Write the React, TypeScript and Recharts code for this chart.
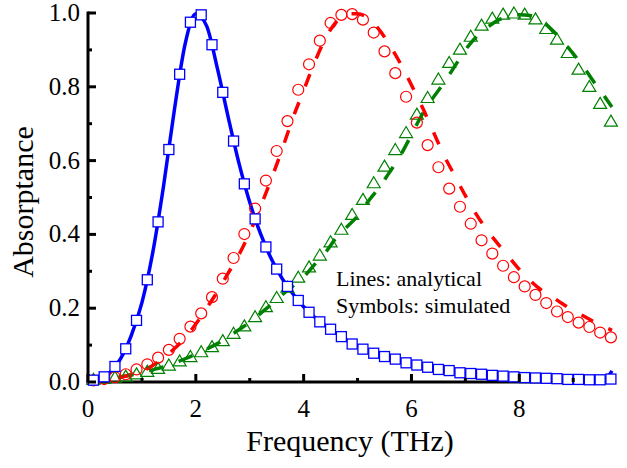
import { ComposedChart, Line, XAxis, YAxis } from "recharts";

// frequencies (THz)
const freqLine = [
  0, 0.2, 0.4, 0.6, 0.8, 1.0, 1.2, 1.4, 1.6, 1.8, 2.0, 2.2, 2.4, 2.6, 2.8, 3.0, 3.2, 3.4, 3.6, 3.8,
  4.0, 4.2, 4.4, 4.6, 4.8, 5.0, 5.2, 5.4, 5.6, 5.8, 6.0, 6.2, 6.4, 6.6, 6.8, 7.0, 7.2, 7.4, 7.6, 7.8,
  8.0, 8.2, 8.4, 8.6, 8.8, 9.0, 9.2, 9.4, 9.6, 9.72,
];
const freqSym = [
  0.1, 0.3, 0.5, 0.7, 0.9, 1.1, 1.3, 1.5, 1.7, 1.9, 2.1, 2.3, 2.5, 2.7, 2.9, 3.1, 3.3, 3.5, 3.7, 3.9,
  4.1, 4.3, 4.5, 4.7, 4.9, 5.1, 5.3, 5.5, 5.7, 5.9, 6.1, 6.3, 6.5, 6.7, 6.9, 7.1, 7.3, 7.5, 7.7, 7.9,
  8.1, 8.3, 8.5, 8.7, 8.9, 9.1, 9.3, 9.5, 9.7,
];

// analytical (lines)
const blueLine = [
  0.002, 0.008, 0.025, 0.062, 0.125, 0.215, 0.35, 0.53, 0.735, 0.915, 0.998, 0.965, 0.85, 0.718, 0.593,
  0.487, 0.402, 0.334, 0.281, 0.239, 0.204, 0.176, 0.153, 0.133, 0.113, 0.096, 0.083, 0.073, 0.065, 0.057,
  0.049, 0.043, 0.037, 0.032, 0.028, 0.024, 0.022, 0.019, 0.017, 0.015, 0.013, 0.012, 0.01, 0.009, 0.008,
  0.007, 0.006, 0.006, 0.01, 0.03,
];
const redLine = [
  0.003, 0.005, 0.008, 0.013, 0.02, 0.03, 0.045, 0.065, 0.09, 0.12, 0.157, 0.2, 0.245, 0.295, 0.345,
  0.405, 0.475, 0.55, 0.63, 0.715, 0.79, 0.865, 0.93, 0.975, 0.997, 0.998, 0.985, 0.955, 0.912, 0.862,
  0.805, 0.745, 0.68, 0.615, 0.56, 0.505, 0.455, 0.412, 0.375, 0.34, 0.305, 0.275, 0.25, 0.232, 0.212,
  0.194, 0.178, 0.162, 0.148, 0.14,
];
const greenLine = [
  0.004, 0.008, 0.011, 0.014, 0.019, 0.025, 0.033, 0.041, 0.051, 0.063, 0.075, 0.089, 0.104, 0.122, 0.142,
  0.162, 0.186, 0.21, 0.236, 0.26, 0.285, 0.318, 0.35, 0.39, 0.42, 0.45, 0.49, 0.527, 0.57, 0.615,
  0.67, 0.725, 0.77, 0.81, 0.855, 0.9, 0.935, 0.96, 0.98, 0.99, 0.995, 0.993, 0.98, 0.955, 0.925,
  0.89, 0.852, 0.81, 0.77, 0.745,
];

// simulated (symbols)
const blueSim = [
  0.005, 0.014, 0.042, 0.09, 0.167, 0.277, 0.434, 0.63, 0.834, 0.975, 0.995, 0.914, 0.785, 0.653, 0.537,
  0.442, 0.366, 0.306, 0.259, 0.221, 0.189, 0.163, 0.143, 0.123, 0.103, 0.089, 0.078, 0.069, 0.062, 0.052,
  0.046, 0.04, 0.034, 0.031, 0.025, 0.023, 0.021, 0.018, 0.016, 0.014, 0.012, 0.011, 0.01, 0.009, 0.007,
  0.007, 0.006, 0.006, 0.008,
];
const redSim = [
  0.004, 0.008, 0.013, 0.021, 0.034, 0.048, 0.066, 0.087, 0.117, 0.15, 0.186, 0.23, 0.28, 0.336, 0.401,
  0.47, 0.546, 0.626, 0.707, 0.792, 0.861, 0.925, 0.973, 0.995, 0.997, 0.982, 0.947, 0.896, 0.837, 0.773,
  0.703, 0.642, 0.582, 0.524, 0.475, 0.429, 0.384, 0.348, 0.315, 0.284, 0.259, 0.236, 0.214, 0.191, 0.176,
  0.161, 0.149, 0.134, 0.121,
];
const greenSim = [
  0.007, 0.01, 0.013, 0.016, 0.022, 0.029, 0.037, 0.046, 0.057, 0.069, 0.082, 0.096, 0.112, 0.132, 0.152,
  0.177, 0.204, 0.229, 0.257, 0.284, 0.312, 0.344, 0.38, 0.414, 0.454, 0.495, 0.54, 0.585, 0.63, 0.676,
  0.726, 0.771, 0.821, 0.866, 0.902, 0.937, 0.967, 0.986, 0.997, 1.0, 0.997, 0.984, 0.958, 0.929, 0.893,
  0.848, 0.801, 0.755, 0.707,
];

const xTicks = [0, 1, 2, 3, 4, 5, 6, 7, 8, 9];
const yTicks = [0, 0.1, 0.2, 0.3, 0.4, 0.5, 0.6, 0.7, 0.8, 0.9, 1.0];

const FONT = "'Times New Roman', Times, 'Liberation Serif', 'DejaVu Serif', serif";
const BLUE = "#0000ff";
const RED = "#ff0000";
const GREEN = "#008000";

const toRows = (xs: number[], ys: number[]) => ys.map((a, i) => ({ f: xs[i], a }));

function makeTick(side: "bottom" | "top" | "left" | "right") {
  return (p: any) => {
    const { x, y, index } = p;
    const major = index % 2 === 0;
    const len = major ? 8 : 4;
    let line;
    if (side === "bottom") line = <line x1={x} y1={y} x2={x} y2={y - len} />;
    else if (side === "top") line = <line x1={x} y1={y} x2={x} y2={y + len} />;
    else if (side === "left") line = <line x1={x} y1={y} x2={x + len} y2={y} />;
    else line = <line x1={x} y1={y} x2={x - len} y2={y} />;
    return (
      <g>
        <g stroke="#000" strokeWidth={3}>{line}</g>
        {major && side === "bottom" && (
          <text x={x} y={y + 35} textAnchor="middle" style={{ fontFamily: FONT, fontSize: 25 }} fill="#000">
            {p.payload.value}
          </text>
        )}
        {major && side === "left" && (
          <text x={x - 8} y={y + 8} textAnchor="end" style={{ fontFamily: FONT, fontSize: 25 }} fill="#000">
            {Number(p.payload.value).toFixed(1)}
          </text>
        )}
      </g>
    );
  };
}

const Square = (p: any) => (
  <rect key={p.index} x={p.cx - 5} y={p.cy - 5} width={10} height={10} fill="#fff" stroke={BLUE} strokeWidth={1.3} />
);
const Circle = (p: any) => (
  <circle key={p.index} cx={p.cx} cy={p.cy} r={5.5} fill="none" stroke={RED} strokeWidth={1.2} />
);
const Triangle = (p: any) => (
  <path
    key={p.index}
    d={`M${p.cx},${p.cy - 6}L${p.cx + 6.5},${p.cy + 5}L${p.cx - 6.5},${p.cy + 5}Z`}
    fill="none"
    stroke={GREEN}
    strokeWidth={1.2}
  />
);

const axisLine = { stroke: "#000", strokeWidth: 3, strokeLinecap: "square" as const };

export default function App() {
  return (
    <div style={{ position: "absolute", left: 0, top: 0, width: 627, height: 468, background: "#fff", fontFamily: FONT }}>
      <ComposedChart width={627} height={468} margin={{ top: 13, right: 15, bottom: 0, left: 0 }}>
        <XAxis
          dataKey="f"
          type="number"
          domain={[0, 9.72]}
          ticks={xTicks}
          interval={0}
          height={86}
          tickSize={0}
          tickMargin={0}
          tickLine={false}
          axisLine={axisLine}
          tick={makeTick("bottom")}
          allowDuplicatedCategory={false}
        />
        <XAxis
          xAxisId="top"
          orientation="top"
          dataKey="f"
          type="number"
          domain={[0, 9.72]}
          ticks={xTicks}
          interval={0}
          height={0}
          tickSize={0}
          tickMargin={0}
          tickLine={false}
          axisLine={axisLine}
          tick={makeTick("top")}
        />
        <YAxis
          type="number"
          domain={[0, 1]}
          ticks={yTicks}
          interval={0}
          width={88}
          tickSize={0}
          tickMargin={0}
          tickLine={false}
          axisLine={axisLine}
          tick={makeTick("left")}
        />
        <YAxis
          yAxisId="right"
          orientation="right"
          type="number"
          domain={[0, 1]}
          ticks={yTicks}
          interval={0}
          width={0}
          tickSize={0}
          tickMargin={0}
          tickLine={false}
          axisLine={axisLine}
          tick={makeTick("right")}
        />
        <Line data={toRows(freqLine, greenLine)} dataKey="a" type="monotone" stroke={GREEN} strokeWidth={3.5}
          strokeDasharray="15 16" dot={false} activeDot={false} isAnimationActive={false} />
        <Line data={toRows(freqLine, redLine)} dataKey="a" type="monotone" stroke={RED} strokeWidth={3.5}
          strokeDasharray="13 17" dot={false} activeDot={false} isAnimationActive={false} />
        <Line data={toRows(freqLine, blueLine)} dataKey="a" type="monotone" stroke={BLUE} strokeWidth={3.5}
          dot={false} activeDot={false} isAnimationActive={false} />
        <Line data={toRows(freqSym, greenSim)} dataKey="a" stroke="none" dot={Triangle} activeDot={false}
          isAnimationActive={false} />
        <Line data={toRows(freqSym, redSim)} dataKey="a" stroke="none" dot={Circle} activeDot={false}
          isAnimationActive={false} />
        <Line data={toRows(freqSym, blueSim)} dataKey="a" stroke="none" dot={Square} activeDot={false}
          isAnimationActive={false} />
      </ComposedChart>
      <svg width={627} height={468} style={{ position: "absolute", left: 0, top: 0, pointerEvents: "none" }}>
        <text x={350} y={451} textAnchor="middle" style={{ fontFamily: FONT, fontSize: 30 }} fill="#000">
          Frequency (THz)
        </text>
        <text x={0} y={0} transform="translate(33,202) rotate(-90)" textAnchor="middle"
          style={{ fontFamily: FONT, fontSize: 30 }} fill="#000">
          Absorptance
        </text>
        <text x={336} y={286} style={{ fontFamily: FONT, fontSize: 22 }} fill="#000">Lines: analytical</text>
        <text x={336} y={313} style={{ fontFamily: FONT, fontSize: 22 }} fill="#000">Symbols: simulated</text>
      </svg>
    </div>
  );
}
